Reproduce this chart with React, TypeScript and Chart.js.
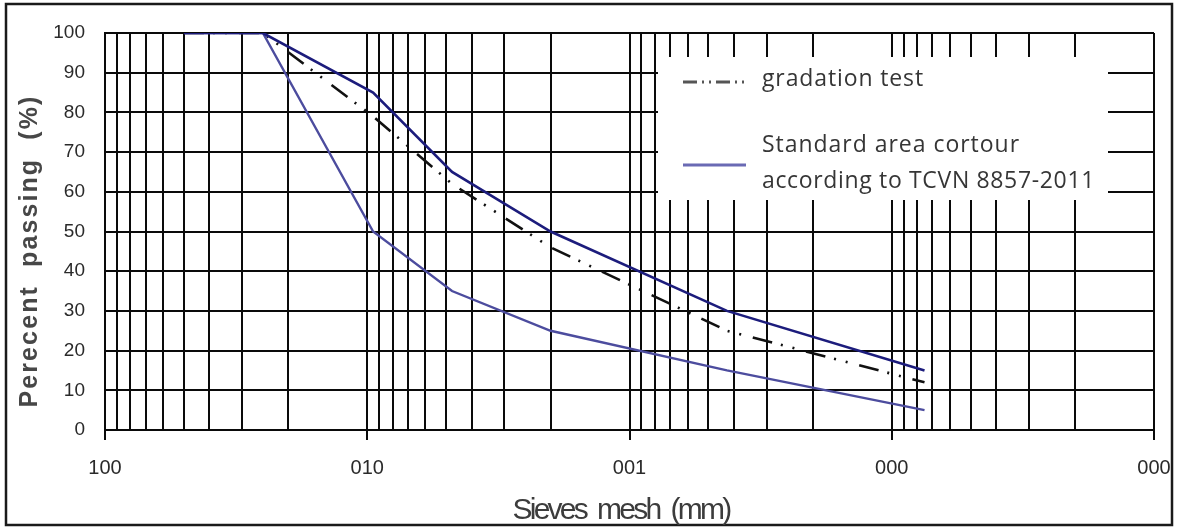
import React, { useEffect, useRef } from "react";
import { Chart, registerables } from "chart.js";

Chart.register(...registerables);

// ---- data ----
const SIEVES_MM = [50, 25, 9.5, 4.75, 2.0, 0.425, 0.075];
const UPPER_LIMIT = [100, 100, 85, 65, 50, 30, 15];
const LOWER_LIMIT = [100, 100, 50, 35, 25, 15, 5];
const GRADATION_TEST = [100, 100, 79, 62, 46, 25, 12];

// ---- axis ticks ----
const X_DECADES = [100, 10, 1, 0.1, 0.01];
const X_DECADE_LABELS = ["100", "010", "001", "000", "000"];
const X_MINOR_MULTIPLIERS = [2, 3, 4, 5, 6, 7, 8, 9];
const Y_MIN = 0;
const Y_MAX = 100;
const Y_STEP = 10;

// ---- text ----
const Y_TITLE = "Perecent  passing  (%)";
const X_TITLE = "Sieves  mesh  (mm)";
const LEGEND_TEST = "gradation test";
const LEGEND_STD = ["Standard area cortour", "according to TCVN 8857-2011"];

// ---- colours ----
const UPPER_COLOR = "#1c1c7c";
const LOWER_COLOR = "#4c4c9e";
const TEST_COLOR = "#111111";
const LEGEND_LINE_COLOR = "#6a6ab4";
const GRID_COLOR = "#0a0a0a";
const TEXT_GRAY = "#474747";

const TEST_DASH = [20, 9, 2, 10, 2, 12];

function buildXTicks() {
  const ticks: { value: number; major: boolean }[] = [];
  for (const d of X_DECADES) {
    ticks.push({ value: d, major: true });
    if (d < 100) {
      for (const m of X_MINOR_MULTIPLIERS) {
        ticks.push({ value: Number((d * m).toPrecision(6)), major: false });
      }
    }
  }
  return ticks.sort((a, b) => a.value - b.value);
}

function fillFitted(
  ctx: CanvasRenderingContext2D,
  text: string,
  x: number,
  y: number,
  target: number,
  font: string,
  align: CanvasTextAlign
) {
  ctx.font = font;
  (ctx as any).letterSpacing = "0px";
  const w = ctx.measureText(text).width;
  const ls = (target - w) / text.length;
  (ctx as any).letterSpacing = ls + "px";
  ctx.textAlign = align;
  ctx.fillText(text, x, y);
  (ctx as any).letterSpacing = "0px";
}

const decorPlugin = {
  id: "decor",
  afterDraw(chart: any) {
    const ctx: CanvasRenderingContext2D = chart.ctx;
    ctx.save();

    // outer frame
    ctx.strokeStyle = "#1a1a1a";
    ctx.lineWidth = 2.5;
    ctx.strokeRect(6, 4, 1166, 521);

    // legend box
    ctx.fillStyle = "#ffffff";
    ctx.fillRect(658, 57, 450, 143);

    // legend samples
    ctx.lineCap = "butt";
    ctx.strokeStyle = "#555555";
    ctx.lineWidth = 3;
    ctx.setLineDash([14, 5, 2, 5, 2, 5]);
    ctx.beginPath();
    ctx.moveTo(683, 82);
    ctx.lineTo(746, 82);
    ctx.stroke();
    ctx.setLineDash([]);
    ctx.strokeStyle = LEGEND_LINE_COLOR;
    ctx.lineWidth = 3;
    ctx.beginPath();
    ctx.moveTo(683, 165);
    ctx.lineTo(746, 165);
    ctx.stroke();

    // legend text
    const legendFont = '23px "Open Sans", Lato, sans-serif';
    ctx.fillStyle = "#363636";
    ctx.textBaseline = "alphabetic";
    fillFitted(ctx, LEGEND_TEST, 762, 86, 162, legendFont, "left");
    fillFitted(ctx, LEGEND_STD[0], 762, 152, 258, legendFont, "left");
    fillFitted(ctx, LEGEND_STD[1], 762, 188, 333, legendFont, "left");

    // y title
    ctx.fillStyle = TEXT_GRAY;
    ctx.save();
    ctx.translate(37, 251);
    ctx.rotate(-Math.PI / 2);
    ctx.textBaseline = "alphabetic";
    fillFitted(ctx, Y_TITLE, 0, 0, 313, 'bold 25px "Liberation Sans", Arial, sans-serif', "center");
    ctx.restore();

    // x title
    ctx.fillStyle = "#3c3c3c";
    ctx.textBaseline = "alphabetic";
    fillFitted(
      ctx,
      X_TITLE,
      621,
      519,
      217,
      '30px "Liberation Sans Narrow", "Arial Narrow", "Liberation Sans", sans-serif',
      "center"
    );

    ctx.restore();
  },
};

export default function App() {
  const canvasRef = useRef<HTMLCanvasElement | null>(null);

  useEffect(() => {
    const canvas = canvasRef.current;
    if (!canvas) return;
    const xTicks = buildXTicks();
    const toPoints = (ys: number[]) => SIEVES_MM.map((x, i) => ({ x, y: ys[i] }));

    const chart = new Chart(canvas, {
      type: "line",
      data: {
        datasets: [
          {
            label: "upper",
            data: toPoints(UPPER_LIMIT),
            borderColor: UPPER_COLOR,
            borderWidth: 2.6,
            pointRadius: 0,
            tension: 0,
          },
          {
            label: "lower",
            data: toPoints(LOWER_LIMIT),
            borderColor: LOWER_COLOR,
            borderWidth: 2.4,
            pointRadius: 0,
            tension: 0,
          },
          {
            label: "gradation test",
            data: toPoints(GRADATION_TEST),
            borderColor: TEST_COLOR,
            borderWidth: 2.6,
            borderDash: TEST_DASH,
            pointRadius: 0,
            tension: 0,
          },
        ],
      },
      options: {
        responsive: false,
        animation: false,
        layout: { padding: { top: 33, right: 23, left: 0, bottom: 0 } },
        plugins: {
          legend: { display: false },
          tooltip: { enabled: false },
          title: { display: false },
        },
        scales: {
          x: {
            type: "logarithmic",
            reverse: true,
            min: 0.01,
            max: 100,
            afterBuildTicks: (scale: any) => {
              scale.ticks = xTicks.map((t) => ({ ...t }));
            },
            afterFit: (scale: any) => {
              scale.height = 97;
            },
            grid: {
              color: GRID_COLOR,
              lineWidth: 2,
              drawTicks: true,
              tickLength: 10,
              tickColor: (c: any) => (c.tick && c.tick.major ? GRID_COLOR : "rgba(0,0,0,0)"),
              tickWidth: 2,
            },
            border: { display: true, color: GRID_COLOR, width: 2 },
            ticks: {
              autoSkip: false,
              maxRotation: 0,
              minRotation: 0,
              padding: 16,
              color: "#2a2a2a",
              font: { family: '"Liberation Sans Narrow", "Arial Narrow", "Liberation Sans", sans-serif', size: 20 },
              callback: (value: any) => {
                const v = Number(value);
                const i = X_DECADES.findIndex((d) => Math.abs(d - v) / d < 1e-6);
                return i >= 0 ? X_DECADE_LABELS[i] : "";
              },
            },
          },
          y: {
            type: "linear",
            min: Y_MIN,
            max: Y_MAX,
            afterFit: (scale: any) => {
              scale.width = 105;
            },
            grid: {
              color: GRID_COLOR,
              lineWidth: 2,
              drawTicks: false,
            },
            border: { display: true, color: GRID_COLOR, width: 2 },
            ticks: {
              stepSize: Y_STEP,
              padding: 20,
              color: "#2a2a2a",
              font: { family: '"Liberation Sans Narrow", "Arial Narrow", "Liberation Sans", sans-serif', size: 19 },
            },
          },
        },
      },
      plugins: [decorPlugin],
    } as any);

    return () => chart.destroy();
  }, []);

  return (
    <div style={{ position: "fixed", left: 0, top: 0, width: 1177, height: 527, background: "#fff" }}>
      <canvas ref={canvasRef} width={1177} height={527} style={{ display: "block" }} />
    </div>
  );
}
